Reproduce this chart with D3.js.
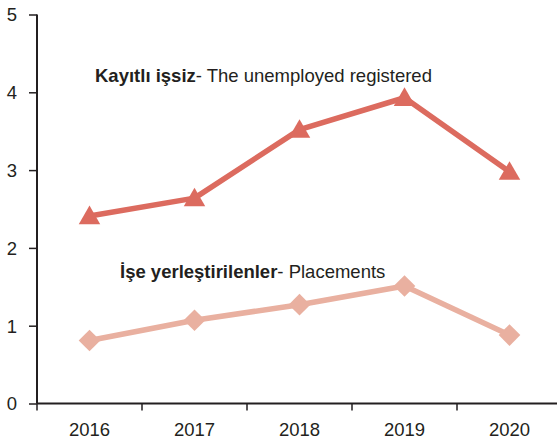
<!DOCTYPE html>
<html>
<head>
<meta charset="utf-8">
<script src="https://cdn.jsdelivr.net/npm/d3@7"></script>
<style>
  body { margin: 0; background: #fff; }
  svg { display: block; font-family: "Liberation Sans", Arial, sans-serif; }
</style>
</head>
<body>
<svg id="chart" width="557" height="439"></svg>
<script>
var years = ["2016", "2017", "2018", "2019", "2020"];
var registered = [2.41, 2.64, 3.52, 3.93, 2.98];
var placements = [0.81, 1.07, 1.27, 1.51, 0.88];
var yTicks = [0, 1, 2, 3, 4, 5];

var svg = d3.select("#chart"),
    ink = "#231f20";

var x = d3.scaleBand()
    .domain(years)
    .range([37, 562]);

var y = d3.scaleLinear()
    .domain([0, 5])
    .range([403.5, 14.5]);

// y axis
var yAxis = svg.append("g")
    .attr("transform", "translate(37,0)")
    .call(d3.axisLeft(y).tickValues(yTicks).tickFormat(d3.format("d")).tickSize(8).tickPadding(12));
yAxis.select(".domain").attr("stroke", ink).attr("stroke-width", 2).attr("d", "M0," + y(5) + "V" + y(0));
yAxis.selectAll(".tick line").attr("stroke", ink).attr("stroke-width", 1.5);
yAxis.selectAll(".tick text")
    .attr("fill", ink)
    .attr("font-family", null)
    .style("font-size", "18.5px")
    .attr("dy", "0.35em");

// x axis
var xAxis = svg.append("g")
    .attr("transform", "translate(0," + y(0) + ")");
xAxis.append("line")
    .attr("x1", 37).attr("x2", 557)
    .attr("stroke", ink).attr("stroke-width", 2);
xAxis.selectAll(".xtick")
    .data(years)
    .enter().append("line")
      .attr("x1", function(d) { return x(d); })
      .attr("x2", function(d) { return x(d); })
      .attr("y1", 0).attr("y2", 7)
      .attr("stroke", ink).attr("stroke-width", 1.5);
xAxis.selectAll(".xlab")
    .data(years)
    .enter().append("text")
      .attr("x", function(d) { return x(d) + x.bandwidth() / 2; })
      .attr("y", 32)
      .attr("text-anchor", "middle")
      .attr("fill", ink)
      .style("font-size", "18.5px")
      .text(function(d) { return d; });

var line = d3.line()
    .x(function(d, i) { return x(years[i]) + x.bandwidth() / 2; })
    .y(function(d) { return y(d); });

var drawSeries = function(data, color, symbolType, size, rotate, dy) {
  svg.append("path")
      .datum(data)
      .attr("fill", "none")
      .attr("stroke", color)
      .attr("stroke-width", 5.5)
      .attr("stroke-linejoin", "round")
      .attr("d", line);

  svg.selectAll(null)
      .data(data)
      .enter().append("path")
        .attr("transform", function(d, i) {
          return "translate(" + (x(years[i]) + x.bandwidth() / 2) + "," + (y(d) + dy) + ") rotate(" + rotate + ")";
        })
        .attr("fill", color)
        .attr("d", d3.symbol().type(symbolType).size(size));
};

drawSeries(placements, "#e9b0a0", d3.symbolSquare, 235, 45, 0);
drawSeries(registered, "#dc6b5f", d3.symbolTriangle, 200, 0, 2);

// labels
var lab1 = svg.append("text")
    .attr("x", 95).attr("y", 82)
    .attr("fill", ink)
    .style("font-size", "18.5px");
lab1.append("tspan").style("font-weight", "bold").text("Kayıtlı işsiz");
lab1.append("tspan").text("- The unemployed registered");

var lab2 = svg.append("text")
    .attr("x", 120).attr("y", 278)
    .attr("fill", ink)
    .style("font-size", "18.5px");
lab2.append("tspan").style("font-weight", "bold").text("İşe yerleştirilenler");
lab2.append("tspan").text("- Placements");
</script>
</body>
</html>
